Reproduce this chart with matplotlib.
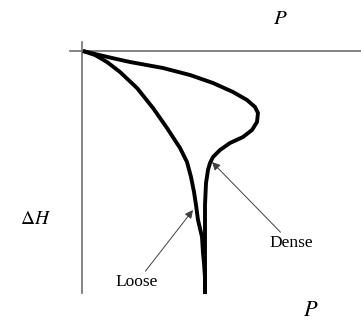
import matplotlib
matplotlib.use("Agg")
import matplotlib.pyplot as plt

plt.rcParams['mathtext.fontset'] = 'stix'
plt.rcParams['font.family'] = ['Liberation Serif', 'DejaVu Serif']

# curve points (P, dH), pixel-like units
dense_p = [83, 95, 112, 130, 163, 190, 213, 233, 247, 255, 258, 257, 252, 243, 230, 220, 213, 210, 208, 206, 205, 205, 205]
dense_h = [51, 54, 58, 62, 68, 75, 83, 92, 100, 107, 113, 122, 130, 137, 143, 150, 157, 163, 170, 183, 205, 250, 294]
loose_p = [83, 95, 107, 120, 137, 153, 167, 180, 187, 191, 194, 196, 198, 202, 203, 204, 205, 205]
loose_h = [51, 55, 62, 72, 88, 108, 128, 148, 162, 177, 192, 205, 220, 237, 253, 263, 278, 294]

fig = plt.figure(figsize=(3.61, 3.28), dpi=100)
ax = fig.add_axes([0, 0, 1, 1])
ax.set_xlim(0, 361)
ax.set_ylim(328, 0)
ax.axis('off')

# axes lines
ax.plot([70, 361], [51, 51], color='#707070', lw=1.2)
ax.plot([82, 82], [42, 293], color='#707070', lw=1.2)

ax.plot(dense_p, dense_h, color='black', lw=2.8, solid_capstyle='butt', solid_joinstyle='round')
ax.plot(loose_p, loose_h, color='black', lw=2.8, solid_capstyle='butt', solid_joinstyle='round')

arrow = dict(arrowstyle='-|>', color='#404040', lw=0.7, mutation_scale=12, shrinkA=0, shrinkB=0)
ax.annotate('Loose', xy=(193, 210), xytext=(137, 282), ha='center', va='center',
            fontsize=12.5, arrowprops=arrow)
ax.annotate('Dense', xy=(212, 162), xytext=(291, 243), ha='center', va='center',
            fontsize=12.5, arrowprops=arrow)

ax.text(280, 19, r'$P$', fontsize=15, ha='center', va='center')
ax.text(311, 312, r'$P$', fontsize=16, ha='center', va='center')
ax.text(36, 220, r'$\Delta H$', fontsize=14, ha='center', va='center')

fig.savefig('out.png', dpi=100)
